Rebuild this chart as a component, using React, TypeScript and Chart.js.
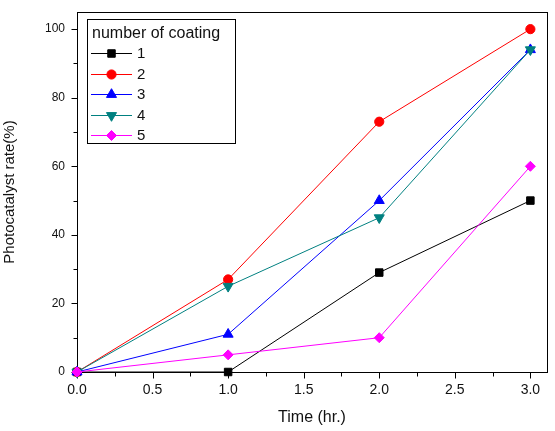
import React, { useEffect, useRef } from 'react';
import { Chart, registerables } from 'chart.js';
import { drawPoint } from 'chart.js/helpers';

Chart.register(...registerables);

// ---- data ----
const times = [0, 1, 2, 3];
const seriesNames = ['1', '2', '3', '4', '5'];
const coating1 = [0, 0, 29, 50];
const coating2 = [0, 27, 73, 100];
const coating3 = [0, 11, 50, 94];
const coating4 = [0, 25, 45, 94];
const coating5 = [0, 5, 10, 60];
const xMajorTicks = [0, 0.5, 1, 1.5, 2, 2.5, 3];
const xMinorTicks = [0.25, 0.75, 1.25, 1.75, 2.25, 2.75];
const yMajorTicks = [0, 20, 40, 60, 80, 100];
const yMinorTicks = [10, 30, 50, 70, 90];
const legendTitle = 'number of coating';
const xTitle = 'Time (hr.)';
const yTitle = 'Photocatalyst rate(%)';

// ---- styles ----
const FONT = '"Liberation Sans", Arial, sans-serif';
const colors = ['#000000', '#ff0000', '#0000ff', '#008080', '#ff00ff'];
const pointStyles = ['rect', 'circle', 'triangle', 'triangle', 'rectRot'];
const pointRotations = [0, 0, 0, 180, 0];
const pointRadii = [5.3, 4.6, 5.8, 5.8, 5];
const allSeries = [coating1, coating2, coating3, coating4, coating5];

const framePlugin = {
  id: 'frame',
  beforeDatasetsDraw(chart: any) {
    const { ctx, chartArea: a, scales } = chart;
    const x = scales.x;
    const y = scales.y;
    ctx.save();
    ctx.strokeStyle = '#000';
    ctx.lineWidth = 1;
    const L = Math.round(a.left) + 0.5;
    const T = Math.round(a.top) + 0.5;
    const R = Math.round(a.right) + 0.5;
    const B = Math.round(a.bottom) + 0.5;
    ctx.strokeRect(L, T, R - L, B - T);
    ctx.beginPath();
    xMajorTicks.forEach((v) => {
      const px = Math.round(x.getPixelForValue(v)) + 0.5;
      ctx.moveTo(px, B);
      ctx.lineTo(px, B + 6);
    });
    xMinorTicks.forEach((v) => {
      const px = Math.round(x.getPixelForValue(v)) + 0.5;
      ctx.moveTo(px, B);
      ctx.lineTo(px, B + 4);
    });
    yMajorTicks.forEach((v) => {
      const py = Math.round(y.getPixelForValue(v)) + 0.5;
      ctx.moveTo(L, py);
      ctx.lineTo(L - 6, py);
    });
    yMinorTicks.forEach((v) => {
      const py = Math.round(y.getPixelForValue(v)) + 0.5;
      ctx.moveTo(L, py);
      ctx.lineTo(L - 4, py);
    });
    ctx.stroke();
    ctx.restore();
  },
  afterDatasetsDraw(chart: any) {
    const { ctx } = chart;
    ctx.save();
    const bx = 87.5, by = 19.5, bw = 148, bh = 124;
    ctx.fillStyle = '#fff';
    ctx.fillRect(bx, by, bw, bh);
    ctx.strokeStyle = '#000';
    ctx.lineWidth = 1;
    ctx.strokeRect(bx, by, bw, bh);
    ctx.fillStyle = '#111';
    ctx.textBaseline = 'middle';
    ctx.textAlign = 'left';
    ctx.font = `16px ${FONT}`;
    ctx.fillText(legendTitle, 92, 34);
    ctx.font = `15px ${FONT}`;
    seriesNames.forEach((name, i) => {
      const cy = 53 + i * 20.5;
      ctx.strokeStyle = colors[i];
      ctx.lineWidth = 1;
      ctx.beginPath();
      ctx.moveTo(91, Math.round(cy) + 0.5);
      ctx.lineTo(132, Math.round(cy) + 0.5);
      ctx.stroke();
      ctx.fillStyle = colors[i];
      drawPoint(
        ctx,
        {
          pointStyle: pointStyles[i] as any,
          radius: pointRadii[i],
          rotation: pointRotations[i],
          borderWidth: 1,
        } as any,
        111.5,
        Math.round(cy) + 0.5
      );
      ctx.fillStyle = '#111';
      ctx.fillText(name, 137, cy + 1);
    });
    ctx.restore();
  },
};

export default function App() {
  const ref = useRef<HTMLCanvasElement>(null);
  useEffect(() => {
    const canvas = ref.current!;
    const chart = new Chart(canvas, {
      type: 'line',
      data: {
        datasets: allSeries.map((vals, i) => ({
          label: seriesNames[i],
          data: times.map((t, j) => ({ x: t, y: vals[j] })),
          borderColor: colors[i],
          backgroundColor: colors[i],
          borderWidth: 1,
          pointStyle: pointStyles[i] as any,
          pointRotation: pointRotations[i],
          pointRadius: pointRadii[i],
          pointBorderWidth: 1,
          tension: 0,
          clip: 10,
          order: 4 - i,
        })),
      },
      options: {
        responsive: false,
        animation: false,
        layout: { padding: { top: 12, right: 8, left: 0, bottom: 0 } },
        plugins: {
          legend: { display: false },
          tooltip: { enabled: false },
        },
        scales: {
          x: {
            type: 'linear',
            min: 0,
            max: 3.11,
            afterBuildTicks: (s: any) => {
              s.ticks = xMajorTicks.map((v) => ({ value: v }));
            },
            afterFit: (s: any) => {
              s.height = 59;
              s.paddingLeft = 0;
              s.paddingRight = 0;
            },
            grid: { display: false, drawTicks: false },
            border: { display: false },
            ticks: {
              padding: 10,
              autoSkip: false,
              maxRotation: 0,
              color: '#111',
              font: { family: FONT, size: 14 },
              callback: (v: any) => Number(v).toFixed(1),
            },
            title: {
              display: true,
              text: xTitle,
              color: '#111',
              font: { family: FONT, size: 16 },
              padding: { top: 0, bottom: 4 },
            },
          },
          y: {
            type: 'linear',
            min: 0,
            max: 105,
            afterBuildTicks: (s: any) => {
              s.ticks = yMajorTicks.map((v) => ({ value: v }));
            },
            afterFit: (s: any) => {
              s.width = 77;
              s.paddingTop = 0;
              s.paddingBottom = 0;
            },
            grid: { display: false, drawTicks: false },
            border: { display: false },
            ticks: {
              padding: 12,
              autoSkip: false,
              color: '#111',
              font: { family: FONT, size: 12 },
              callback: (v: any) => String(v),
            },
            title: {
              display: true,
              text: yTitle,
              color: '#111',
              font: { family: FONT, size: 15 },
              padding: { top: 1, bottom: 0 },
            },
          },
        },
      },
      plugins: [framePlugin],
    });
    return () => chart.destroy();
  }, []);
  return (
    <div style={{ position: 'absolute', left: 0, top: 0, width: 555, height: 431, background: '#fff' }}>
      <canvas ref={ref} width={555} height={431} />
    </div>
  );
}
